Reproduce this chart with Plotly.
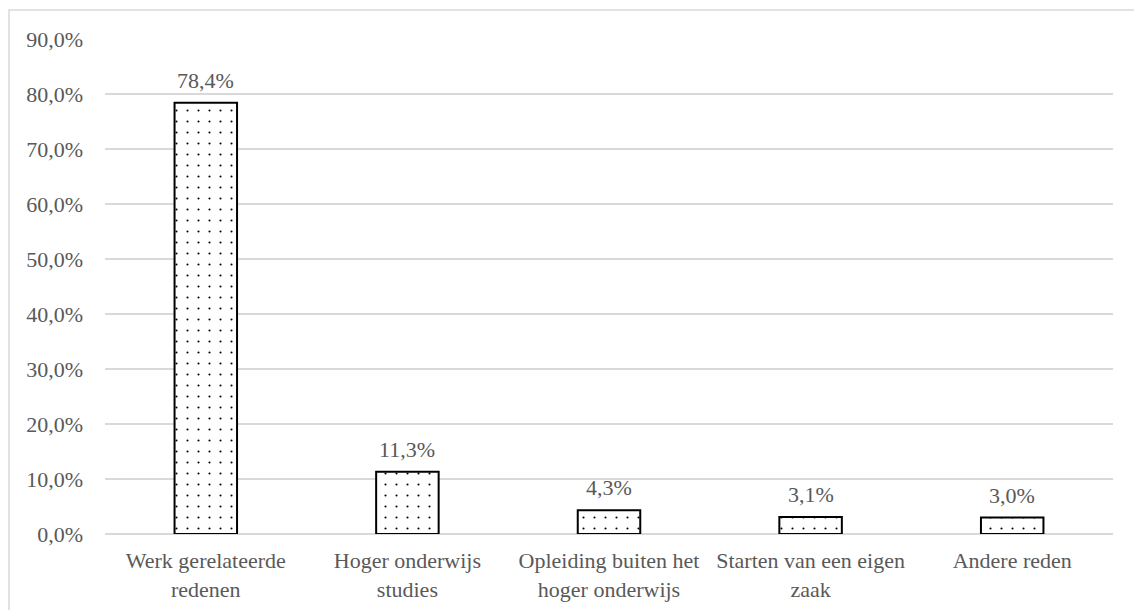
import plotly.graph_objects as go

categories = ["Werk gerelateerde<br>redenen", "Hoger onderwijs<br>studies",
              "Opleiding buiten het<br>hoger onderwijs", "Starten van een eigen<br>zaak",
              "Andere reden"]
values = [78.4, 11.3, 4.3, 3.1, 3.0]
value_labels = ["78,4%", "11,3%", "4,3%", "3,1%", "3,0%"]
tick_vals = [0, 10, 20, 30, 40, 50, 60, 70, 80, 90]
tick_text = ["0,0%", "10,0%", "20,0%", "30,0%", "40,0%", "50,0%", "60,0%", "70,0%", "80,0%", "90,0%"]

FONT = "'Liberation Serif', 'DejaVu Serif', serif"
GRAY = "#595959"
FS = 22

fig = go.Figure()
fig.add_trace(go.Bar(
    x=categories, y=values, width=0.31,
    marker=dict(color="white", line=dict(color="black", width=2),
                pattern=dict(shape=".", size=11, solidity=0.03,
                             fgcolor="black", bgcolor="white", fillmode="replace")),
    hoverinfo="skip",
))
for c, v, t in zip(categories, values, value_labels):
    fig.add_annotation(x=c, y=v, text=t, showarrow=False, yanchor="bottom",
                       yshift=8, font=dict(family=FONT, size=FS, color=GRAY))

W = 1008
fig.add_shape(type="rect", xref="paper", yref="paper",
              x0=(9 - 105) / W, x1=1.2, y0=-0.5, y1=(534 - 10) / 495,
              line=dict(color="#d9d9d9", width=1.5), fillcolor="rgba(0,0,0,0)", layer="below")

fig.update_layout(
    width=1134, height=610,
    margin=dict(l=105, r=21, t=39, b=76),
    paper_bgcolor="white", plot_bgcolor="white",
    showlegend=False,
    font=dict(family=FONT, size=FS, color=GRAY),
    bargap=0.69,
)
fig.update_xaxes(showgrid=False, showline=False, ticks="", tickfont=dict(family=FONT, size=FS, color=GRAY),
                 tickangle=0, ticklabelstandoff=11, automargin=False)
fig.update_yaxes(range=[0, 90], tickvals=tick_vals, ticktext=tick_text,
                 showgrid=True, gridcolor="#d9d9d9", gridwidth=1.5,
                 zeroline=True, zerolinecolor="#d9d9d9", zerolinewidth=1.5,
                 showline=False, ticks="", ticklabelstandoff=21, automargin=False,
                 tickfont=dict(family=FONT, size=FS, color=GRAY))

fig.write_html("out.html")
